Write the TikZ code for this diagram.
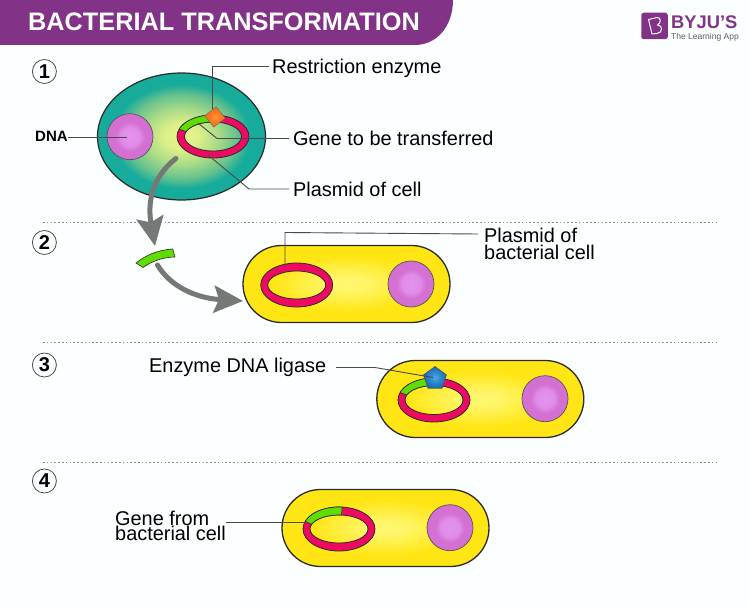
\documentclass[tikz,border=0pt]{standalone}
\usepackage{fontspec}
\setmainfont{Liberation Sans}
\usetikzlibrary{shapes.geometric,shapes.misc,arrows.meta}
\definecolor{paper}{HTML}{FBFFFF}
\definecolor{banner}{HTML}{823287}
\definecolor{ringpink}{HTML}{EE0A62}
\definecolor{genegreen}{HTML}{5FDC00}
\definecolor{arrowgray}{HTML}{757875}
\definecolor{leader}{HTML}{4A4A4A}
\definecolor{outline}{HTML}{2A2A2A}
\definecolor{logogray}{HTML}{5F5F66}
% radial shadings: the path's edge falls at about 25bp
\pgfdeclareradialshading{cellglow}{\pgfpoint{0bp}{0bp}}{
  rgb(0bp)=(.91,.96,.55); rgb(5bp)=(.87,.94,.54); rgb(11bp)=(.66,.86,.53);
  rgb(16.5bp)=(.40,.76,.55); rgb(20.5bp)=(.09,.67,.61); rgb(50bp)=(.09,.67,.61)}
\pgfdeclareradialshading{nucleusglow}{\pgfpoint{0bp}{0bp}}{
  rgb(0bp)=(.89,.58,.92); rgb(10bp)=(.88,.55,.91); rgb(16bp)=(.83,.44,.82); rgb(50bp)=(.83,.43,.81)}
\pgfdeclareradialshading{capsuleglow}{\pgfpoint{0bp}{0bp}}{
  rgb(0bp)=(1,.97,.45); rgb(5bp)=(1,.96,.40); rgb(18bp)=(1,.90,.08); rgb(50bp)=(1,.90,.08)}
\pgfdeclareradialshading{orangeglow}{\pgfpoint{0bp}{0bp}}{
  rgb(0bp)=(1,.60,.20); rgb(11bp)=(1,.48,.14); rgb(25bp)=(.98,.42,.12); rgb(50bp)=(.98,.42,.12)}
\pgfdeclareradialshading{blueglow}{\pgfpoint{0bp}{0bp}}{
  rgb(0bp)=(.30,.68,.90); rgb(10bp)=(.20,.55,.82); rgb(25bp)=(.09,.42,.72); rgb(50bp)=(.09,.42,.72)}
\tikzset{
  cellbody/.style={ellipse,draw=outline,line width=1.2pt,inner sep=0pt,
    minimum width=168pt,minimum height=127pt,shading=cellglow},
  capsule/.style={rounded rectangle,draw=outline,line width=1.3pt,inner sep=0pt,
    minimum width=207pt,minimum height=77pt,shading=capsuleglow},
  nucleus/.style={circle,draw=outline!80,line width=.7pt,inner sep=0pt,
    minimum size=46pt,shading=nucleusglow},
  ringbody/.style={fill=ringpink,draw=outline,line width=.8pt,even odd rule},
  genebody/.style={fill=genegreen,draw=outline,line width=.6pt},
  leaderline/.style={draw=leader,line width=.9pt},
  divider/.style={draw=black!45,line width=.9pt,dash pattern=on 1.6pt off 2.2pt},
  stepnum/.style={circle,draw=black!70,line width=.8pt,inner sep=0pt,minimum size=24pt,
    font=\bfseries\fontsize{20}{20}\selectfont},
  lbl/.style={anchor=base west,inner sep=0pt,font=\fontsize{19.9}{19.9}\selectfont,text=black},
  lbltwo/.style={anchor=north west,inner sep=0pt,align=left,text=black},
  transfer/.style={draw=arrowgray,line width=5pt,line cap=round,
    -{Stealth[length=29pt,width=27pt,inset=5pt,fill=arrowgray]}}
}
% pink ring with a green gene segment between two parameter angles
\newcommand\plasmidring[8]{%
  \path[ringbody] (#1,#2) ellipse [x radius=#3,y radius=#4] (#1,#2) ellipse [x radius=#5,y radius=#6];
  \ifx\relax#7\relax\else
  \draw[genebody] plot[domain=#7:#8,samples=24] ({#1+#3*cos(\x)},{#2+#4*sin(\x)})
    -- plot[domain=#8:#7,samples=24] ({#1+#5*cos(\x)},{#2+#6*sin(\x)}) -- cycle;
  \fi}
\begin{document}
\begin{tikzpicture}[x=1pt,y=-1pt]
\useasboundingbox (0,0) rectangle (750,607);
\fill[paper] (0,0) rectangle (750,607);

% heading band
\fill[banner] (0,0) -- (453,0) .. controls (453,26) and (437,45) .. (415,45) -- (0,45) -- cycle;
\node[anchor=base west,inner sep=0pt,text=white,font=\bfseries\fontsize{25.3}{25.3}\selectfont] (title) at (28,30.5) {BACTERIAL TRANSFORMATION};

% brand mark
\node[draw=none,fill=banner,rounded corners=2.5pt,minimum size=26.5pt,inner sep=0pt] (mark) at (654.5,26) {};
\draw[white,line width=1pt,line join=round] (648.5,19.5) -- (657,17.5) .. controls (661,17) and (661.5,23) .. (657.5,25)
  .. controls (663,25) and (663,33) .. (657,33.5) -- (652,34) -- cycle;
\node[anchor=base west,inner sep=0pt,text=banner,font=\bfseries\fontsize{18.3}{18.3}\selectfont] (brand) at (671,29) {BYJU'S};
\node[anchor=base west,inner sep=0pt,text=logogray,font=\fontsize{8.5}{8.5}\selectfont] (tagline) at (671,39.5) {The Learning App};

% section dividers
\foreach \yy in {222,342,462} \draw[divider] (43,\yy) -- (718,\yy);

% step numbers
\node[stepnum] (n1) at (44.4,71.5) {1};
\node[stepnum] (n2) at (44.4,242.5) {2};
\node[stepnum] (n3) at (44.4,365) {3};
\node[stepnum] (n4) at (44.4,481) {4};

% step 1: donor cell
\node[cellbody] (cell) at (181.5,136.5) {};
\node[nucleus] (dna1) at (130,136.7) {};
\plasmidring{213}{136.5}{36}{21.5}{28.5}{14.5}{200}{268}
\node[rectangle,rotate=38,draw=outline!70,line width=.5pt,minimum size=14.5pt,inner sep=0pt,shading=orangeglow] (cutter) at (215,117) {};

\node[lbl] (lrest) at (272,74) {Restriction enzyme};
\node[lbl] (lgene) at (293,146) {Gene to be transferred};
\node[lbl] (lplas) at (293,196.5) {Plasmid of cell};
\node[anchor=base west,inner sep=0pt,font=\bfseries\fontsize{15}{15}\selectfont] (ldna) at (35,142) {DNA};

\coordinate (e1) at (212.5,66);
\coordinate (e2) at (212.5,109);
\coordinate (g1) at (217,138.5);
\coordinate (g2) at (198,123);
\coordinate (p1) at (249,189);
\coordinate (p2) at (208,155);
\coordinate (d1) at (127,137);
\coordinate (lrestw) at (269,66);
\coordinate (lgenew) at (289,138.5);
\coordinate (lplasw) at (289,189);
\draw[leaderline] (lrestw) -- (e1) -- (e2);
\draw[leaderline] (lgenew) -- (g1) -- (g2);
\draw[leaderline] (lplasw) -- (p1) -- (p2);
\coordinate (ldnae) at (68,137);
\draw[leaderline] (ldnae) -- (d1);

% excised gene fragment
\draw[genebody,fill=genegreen] (136,263) .. controls (146,255) and (158,250) .. (172.7,249)
  -- (175,257) .. controls (164,257) and (152,261) .. (143,267.5) -- cycle;

% transfer arrows
\coordinate (a1s) at (176,158.5);
\coordinate (a1t) at (155,246);
\coordinate (a2s) at (157.5,265);
\coordinate (a2t) at (243,301);
\draw[transfer] (a1s) .. controls (158,172) and (146,195) .. (a1t);
\draw[transfer] (a2s) .. controls (170,286) and (195,298) .. (a2t);

% step 2: recipient with empty plasmid
\node[capsule] (cap2) at (346.5,284) {};
\node[nucleus] (dna2) at (411,284) {};
\plasmidring{296.7}{285}{36}{22}{29}{14}{}{}
\node[lbltwo,font=\fontsize{19.9}{17.5}\selectfont] (lbac) at (484,227.5) {Plasmid of\\bacterial cell};
\coordinate (b1) at (285,232.5);
\coordinate (b2) at (285,266.5);
\coordinate (lbacw) at (478,234);
\draw[leaderline] (lbacw) -- (b1) -- (b2);

% step 3: ligase seals the gene in
\node[capsule] (cap3) at (480.3,399) {};
\node[nucleus] (dna3) at (545,398.7) {};
\plasmidring{434}{400}{36}{22}{29}{14.5}{200}{272}
\node[regular polygon,regular polygon sides=5,draw=outline!80,line width=.6pt,minimum size=24pt,inner sep=0pt,shading=blueglow] (ligase) at (435,378.5) {};
\node[lbl] (llig) at (149,372) {Enzyme DNA ligase};
\coordinate (l1) at (375,367.5);
\coordinate (l2) at (433,377.5);
\coordinate (lligw) at (336,367.5);
\draw[leaderline] (lligw) -- (l1) -- (l2);

% step 4: recombinant plasmid
\node[capsule] (cap4) at (385.5,528) {};
\node[nucleus] (dna4) at (450,527.7) {};
\plasmidring{339}{529}{36}{22}{29}{14}{200}{275}
\node[lbltwo,font=\fontsize{19.9}{15.8}\selectfont] (lfrom) at (115,510.5) {Gene from\\bacterial cell};
\coordinate (lfromw) at (226,522);
\coordinate (f1) at (305,522);
\draw[leaderline] (lfromw) -- (f1);
\end{tikzpicture}
\end{document}
